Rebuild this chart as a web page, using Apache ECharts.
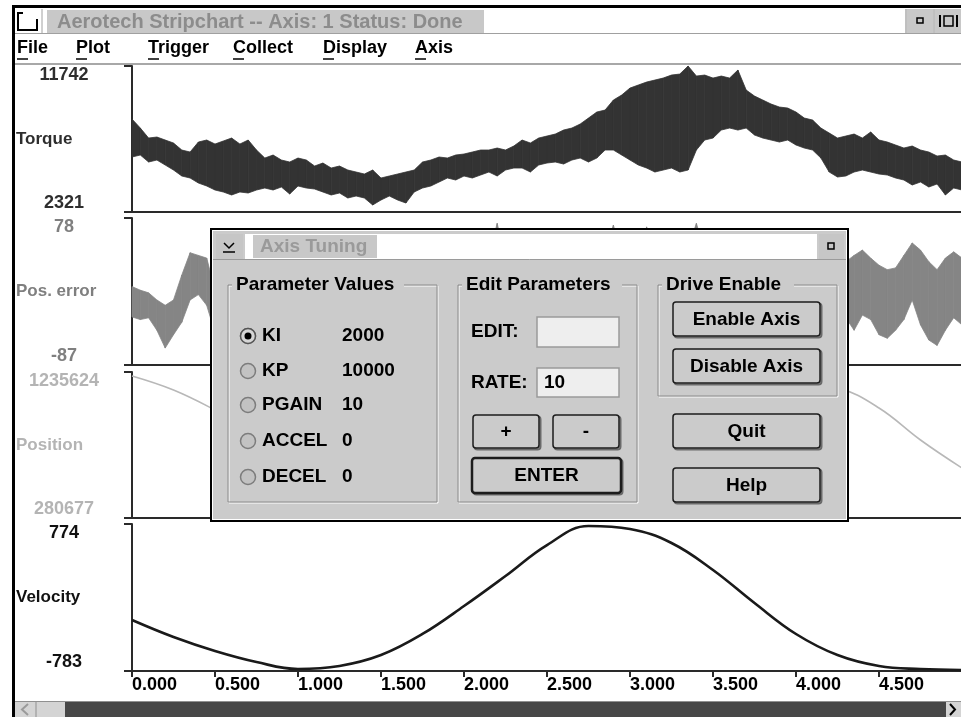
<!DOCTYPE html>
<html>
<head>
<meta charset="utf-8">
<script src="https://cdn.jsdelivr.net/npm/echarts@6/dist/echarts.min.js"></script>
<style>
html,body{margin:0;padding:0;background:#fff;}
#chart{width:961px;height:717px;}
</style>
</head>
<body>
<div id="chart"></div>
<script>
// ---------------- DATA ----------------
const fastTimes = [0,0.05,0.1,0.15,0.2,0.25,0.3,0.35,0.4,0.45,0.5,0.55,0.6,0.65,0.7,0.75,0.8,0.85,0.9,0.95,
1,1.05,1.1,1.15,1.2,1.25,1.3,1.35,1.4,1.45,1.5,1.55,1.6,1.65,1.7,1.75,1.8,1.85,1.9,1.95,
2,2.05,2.1,2.15,2.2,2.25,2.3,2.35,2.4,2.45,2.5,2.55,2.6,2.65,2.7,2.75,2.8,2.85,2.9,2.95,
3,3.05,3.1,3.15,3.2,3.25,3.3,3.35,3.4,3.45,3.5,3.55,3.6,3.65,3.7,3.75,3.8,3.85,3.9,3.95,
4,4.05,4.1,4.15,4.2,4.25,4.3,4.35,4.4,4.45,4.5,4.55,4.6,4.65,4.7,4.75,4.8,4.85,4.9,4.95,5];

const torqueHigh = [8320,7739,7094,7159,6965,6772,6320,6191,6836,6965,
6707,6901,7094,6707,6965,6320,5804,5998,5675,5546,
5804,5675,5288,5482,5159,5288,5030,4901,4772,5030,
4514,4643,4772,4901,5030,5546,5675,5869,5804,5998,
6062,6191,6320,6320,6449,6320,6578,6965,6772,7094,
7223,7352,7610,7739,7997,8384,8771,8900,9545,9868,
10319,10513,10706,10835,10964,11158,11222,11738,11093,11158,
10964,11093,10964,11480,10190,9803,9545,9287,9094,9029,
8771,8384,8255,7739,7417,7094,7223,7352,7094,7481,
6965,6836,6643,6449,6578,6320,6191,5933,5998,5675,5546];
const torqueLow = [5869,5998,5546,5675,5353,5030,4643,4514,4192,3998,
3740,3611,3418,3611,3547,3740,3869,3740,3934,3482,
3998,3869,3805,3611,3418,3547,3224,3353,3224,2773,
3095,3353,3095,2900,3611,3869,3998,4256,4514,4385,
4643,4514,4708,4901,4643,5030,5159,5159,4901,5353,
5482,5546,5417,5675,5804,5546,5804,6320,6320,5998,
5675,5353,5159,4901,5030,5159,4901,5030,6320,6965,
7094,7610,7739,7610,7739,7288,7094,6965,6836,6965,
6643,6449,6320,5804,4901,4579,4643,4901,5030,4901,
4772,4708,4514,4385,4063,4256,3934,4127,3418,3869,3740];

const posErrHigh = [1,-3,-6,-14,-20,-14,14,39,36,33,
-3,5,12,20,28,35,30,22,15,8,
2,-5,-10,-4,6,15,25,32,28,20,
12,5,0,8,16,24,30,26,18,22,
28,34,40,36,72,30,24,18,12,20,
26,32,38,30,22,28,34,40,70,36,
30,24,68,28,22,30,38,44,72,40,
34,28,22,16,10,14,20,26,32,36,
30,24,18,22,26,28,29,36,42,33,
25,20,22,36,50,42,29,20,33,40,33];
const posErrLow = [-33,-36,-34,-48,-68,-53,-39,-14,-8,-20,
-51,-44,-38,-30,-22,-16,-24,-32,-40,-46,
-52,-56,-50,-42,-34,-26,-18,-12,-20,-28,
-36,-42,-46,-40,-32,-24,-18,-22,-30,-26,
-20,-14,-10,-16,-12,-22,-28,-34,-40,-32,
-26,-20,-14,-22,-30,-24,-18,-12,-8,-16,
-22,-28,-20,-26,-32,-24,-16,-10,-6,-14,
-20,-26,-32,-38,-44,-40,-34,-28,-22,-18,
-24,-30,-36,-32,-28,-30,-34,-48,-31,-36,
-53,-57,-48,-36,-14,-42,-59,-65,-48,-34,-42];

const slowTimes = [0,0.25,0.5,0.75,1,1.25,1.5,1.75,2,2.25,2.5,2.75,3,3.25,3.5,3.75,4,4.25,4.5,4.75,5];
const positionValues = [1209500,1117900,987100,836600,673100,529200,418000,346100,319900,346100,
444200,594600,758100,921700,1052500,1131000,1157100,1131000,1000200,790900,607700];
const velocityValues = [-243,-423,-571,-688,-762,-730,-614,-391,-95,223,
551,753,721,573,287,-63,-391,-614,-730,-762,-772];

const panelNames = ['Torque','Pos. error','Position','Velocity'];
const panelMin = [2321,-87,280677,-783];
const panelMax = [11742,78,1235624,774];
const xTickLabels = ['0.000','0.500','1.000','1.500','2.000','2.500','3.000','3.500','4.000','4.500'];

const menuItems = ['File','Plot','Trigger','Collect','Display','Axis'];
const paramNames = ['KI','KP','PGAIN','ACCEL','DECEL'];
const paramValues = ['2000','10000','10','0','0'];

// ---------------- CHART ----------------
const FONT = '"Liberation Sans", Arial, sans-serif';
const panelColors = ['#2e2e2e','#7f7f7f','#b4b4b4','#111111'];
const gridTops = [66,218,372,524];
const gridHeights = [146,147,146,147];
const NAME_FONT = 'bold 17px ' + FONT;
const measureCtx = document.createElement('canvas').getContext('2d');
measureCtx.font = NAME_FONT;
// axis name is right-aligned at its anchor; place its left edge at x=16
const nameGaps = panelNames.map(n => 132 - 16 - measureCtx.measureText(n).width);

const grids = gridTops.map((t,i)=>({left:132, top:t, width:830, height:gridHeights[i], containLabel:false, outerBoundsMode:'none'}));

const xAxes = gridTops.map((t,i)=>({
  type:'value', gridIndex:i, min:0, max:5, interval:0.5,
  axisLine:{show:true, onZero:false, lineStyle:{color:'#2a2a2a', width:2}},
  axisTick:{show:i===3, length:6, lineStyle:{color:'#2a2a2a', width:2}},
  splitLine:{show:false},
  axisLabel:{show:i===3, align:'left', margin:5, showMaxLabel:false,
    color:'#000', fontSize:18, fontWeight:'bold', fontFamily:FONT,
    formatter:(v)=>{ const k=Math.round(v/0.5); return xTickLabels[k]!==undefined?xTickLabels[k]:''; }}
}));

const yAxes = gridTops.map((t,i)=>({
  type:'value', gridIndex:i, min:panelMin[i], max:panelMax[i], interval:panelMax[i]-panelMin[i],
  axisLine:{show:true, onZero:false, lineStyle:{color:'#2a2a2a', width:2}},
  axisTick:{show:true, length:8, lineStyle:{color:'#2a2a2a', width:2}},
  splitLine:{show:false},
  axisLabel:{show:true, align:'center', margin:68, lineHeight:18,
    color:panelColors[i], fontSize:18, fontWeight:'bold', fontFamily:FONT,
    formatter:(v)=> v===panelMax[i] ? '\n'+v : v+'\n'},
  name:panelNames[i], nameLocation:'middle', nameRotate:0, nameGap:nameGaps[i], nameMoveOverlap:false,
  nameTextStyle:{color:panelColors[i], fontSize:17, fontWeight:'bold', fontFamily:FONT}
}));

function bandSeries(idx, times, lo, hi, color){
  return {
    type:'custom', xAxisIndex:idx, yAxisIndex:idx, silent:true, animation:false,
    data: times.map((t,i)=>[t, lo[i], hi[i]]),
    encode:{x:0, y:[1,2]},
    renderItem:(params, api)=>{
      const i = params.dataIndex;
      if (i >= times.length-1) return;
      const pts = [api.coord([times[i],hi[i]]), api.coord([times[i+1],hi[i+1]]),
                   api.coord([times[i+1],lo[i+1]]), api.coord([times[i],lo[i]])];
      return {type:'polygon', shape:{points:pts}, style:{fill:color, stroke:color, lineWidth:0.8}};
    }
  };
}

const series = [
  bandSeries(0, fastTimes, torqueLow, torqueHigh, '#333333'),
  bandSeries(1, fastTimes, posErrLow, posErrHigh, '#858585'),
  {type:'line', xAxisIndex:2, yAxisIndex:2, data:slowTimes.map((t,i)=>[t,positionValues[i]]),
   showSymbol:false, smooth:0.4, lineStyle:{color:'#b8b8b8', width:1.6}, silent:true, animation:false},
  {type:'line', xAxisIndex:3, yAxisIndex:3, data:slowTimes.map((t,i)=>[t,velocityValues[i]]),
   showSymbol:false, smooth:0.4, lineStyle:{color:'#1a1a1a', width:2.6}, silent:true, animation:false}
];

// ---------------- WINDOW CHROME / DIALOG (graphics) ----------------
const G = [];
function rect(x,y,w,h,fill,stroke,lw,z,r){ G.push({type:'rect', z:z||100, silent:true, shape:{x:x,y:y,width:w,height:h,r:r||0}, style:{fill:fill||'none', stroke:stroke||'none', lineWidth:lw||1}}); }
function line(x1,y1,x2,y2,stroke,lw,z){ G.push({type:'line', z:z||100, silent:true, shape:{x1:x1,y1:y1,x2:x2,y2:y2}, style:{stroke:stroke, lineWidth:lw||1}}); }
function poly(points,stroke,lw,z){ G.push({type:'polyline', z:z||100, silent:true, shape:{points:points}, style:{stroke:stroke, fill:'none', lineWidth:lw||1}}); }
function circ(cx,cy,r,fill,stroke,lw,z){ G.push({type:'circle', z:z||100, silent:true, shape:{cx:cx,cy:cy,r:r}, style:{fill:fill||'none', stroke:stroke||'none', lineWidth:lw||1}}); }
function text(x,y,s,color,size,align,z){ G.push({type:'text', z:z||110, silent:true, x:x, y:y,
  style:{text:s, fill:color||'#000', font:'bold '+(size||18)+'px '+FONT, textAlign:align||'left', align:align||'left', textVerticalAlign:'middle', verticalAlign:'middle'}}); }

// outer window frame
rect(12,5,949,3,'#000','none',1,120);
rect(12,5,3,712,'#000','none',1,120);
// title bar
poly([[23,13],[18,13],[18,30],[37,30],[37,19]],'#000',2,105);
line(42,9,42,33,'#a0a0a0',1,105);
rect(47,10,437,23,'#c8c8c8','none',1,101);
text(57,22,'Aerotech Stripchart -- Axis: 1 Status: Done','#8c8c8c',20);
line(15,33.5,961,33.5,'#a0a0a0',1,101);
rect(907,9,26,24,'#c8c8c8','none',1,101);
rect(917,18,6,5,'none','#000',1.5,105);
rect(935,9,26,24,'#c8c8c8','none',1,101);
line(940,15,940,27,'#000',2,105);
rect(944,16,9,10,'none','#000',1.5,105);
line(957,15,957,27,'#000',2,105);
line(906,9,906,33,'#808080',1,105);
line(934,9,934,33,'#808080',1,105);
// menu
const menuX = [17,76,148,233,323,415];
menuItems.forEach((m,i)=>{ text(menuX[i],48,m,'#000',18); line(menuX[i],59,menuX[i]+11,59,'#000',1.5,110); });
line(15,64,961,64,'#a8a8a8',2,101);
// scrollbar
rect(15,701,946,16,'#d4d4d4','none',1,101);
line(15,701.5,961,701.5,'#909090',1,102);
rect(65,702,881,15,'#474747','none',1,102);
line(36,702,36,717,'#909090',1,102);
poly([[28,704],[22,709.5],[28,715]],'#9a9a9a',2,105);
poly([[950,704],[955,709.5],[950,715]],'#000',2,105);

// dialog
rect(211,229,637,292,'#ffffff','#000',2,100);
rect(213,231,633,288,'#cbcbcb','none',1,100);
rect(245,234,572,25,'#ffffff','none',1,101);
rect(216,234,27,25,'#c6c6c6','none',1,101);
poly([[224,243],[229,248],[234,243]],'#000',1.5,105);
line(223,252,235,252,'#000',1.5,105);
rect(253,235,124,23,'#c8c8c8','none',1,102);
text(260,247,'Axis Tuning','#9a9a9a',19);
rect(819,234,25,25,'#c6c6c6','none',1,101);
rect(828,243,6,6,'none','#000',1.5,105);
line(213,259.5,846,259.5,'#9a9a9a',1,101);

function groupBox(x,y,w,h,title,titleW){
  rect(x+1,y+1,w,h,'none','#ffffff',1,101);
  rect(x,y,w,h,'none','#8a8a8a',1,101);
  rect(x+4,y-9,titleW,18,'#cbcbcb','none',1,102);
  text(x+8,y,title,'#000',19);
}
groupBox(228,285,209,217,'Parameter Values',172);
groupBox(458,285,179,217,'Edit Parameters',160);
groupBox(658,285,179,111,'Drive Enable',132);

const radioY = [336,371,405,441,477];
paramNames.forEach((p,i)=>{
  circ(248,radioY[i],7.5,'#c2c2c2','#7c7c7c',1.5,103);
  if(i===0){ circ(248,radioY[i],7.5,'#d6d6d6','#555',1.5,104); circ(248,radioY[i],3.5,'#000','none',1,105); }
  text(262,radioY[i],p,'#000',19);
  text(342,radioY[i],paramValues[i],'#000',19);
});

function button(x,y,w,h,label,thick){
  rect(x+1.5,y+1.5,w,h,'none','#6a6a6a',2,102,3);
  rect(x,y,w,h,'#cbcbcb','#1c1c1c',thick?2.5:1.5,103,3);
  text(x+w/2,y+h/2+0.5,label,'#000',19,'center');
}
text(471,332,'EDIT:','#000',19);
rect(537,317,82,30,'#eeeeee','#9a9a9a',1.5,103);
text(471,383,'RATE:','#000',19);
rect(537,368,82,29,'#eeeeee','#9a9a9a',1.5,103);
text(544,383,'10','#000',19);
button(473,415,66,33,'+');
button(553,415,66,33,'-');
button(472,458,149,35,'ENTER',true);
button(673,302,147,34,'Enable Axis');
button(673,349,147,34,'Disable Axis');
button(673,414,147,34,'Quit');
button(673,468,147,34,'Help');

const chart = echarts.init(document.getElementById('chart'), null, {renderer:'canvas'});
chart.setOption({
  backgroundColor:'#ffffff',
  animation:false,
  grid:grids, xAxis:xAxes, yAxis:yAxes, series:series,
  graphic:{elements:G}
});
</script>
</body>
</html>
